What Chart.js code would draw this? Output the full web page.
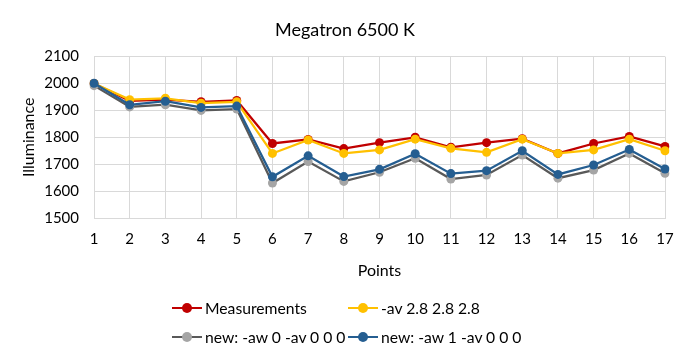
<!DOCTYPE html>
<html><head><meta charset="utf-8">
<script src="https://cdn.jsdelivr.net/npm/chart.js@4/dist/chart.umd.min.js"></script>
<style>
body{margin:0;background:#fff;}
#wrap{position:relative;width:690px;height:360px;}
#legend{position:absolute;left:0;top:0;width:690px;height:360px;pointer-events:none;font-family:Lato,"Open Sans",sans-serif;font-size:15.7px;color:#000;}
.li{position:absolute;display:flex;align-items:center;white-space:nowrap;height:20px;}
.mk{position:relative;width:30px;height:10px;margin-right:3px;}
.mk .ln{position:absolute;left:0;right:0;top:4px;height:2px;}
.mk .dt{position:absolute;left:10px;top:0;width:10px;height:10px;border-radius:50%;}
</style></head>
<body><div id="wrap"><canvas id="c" width="690" height="360"></canvas><div id="legend"></div></div>
<script>
const title = "Megatron 6500 K";
const categories = ["1","2","3","4","5","6","7","8","9","10","11","12","13","14","15","16","17"];
const seriesNames = ["Measurements", "-av 2.8 2.8 2.8", "new: -aw 0 -av 0 0 0", "new: -aw 1 -av 0 0 0"];
const measurements = [2000,1935,1940,1932,1937,1777,1792,1758,1780,1800,1763,1780,1795,1740,1777,1803,1766];
const av28 = [2000,1940,1945,1927,1932,1740,1790,1740,1753,1793,1759,1744,1793,1740,1753,1793,1750];
const aw0 = [1992,1913,1921,1900,1905,1630,1710,1636,1670,1722,1645,1660,1734,1648,1678,1740,1666];
const aw1 = [2001,1921,1934,1911,1916,1653,1731,1654,1681,1739,1665,1676,1750,1662,1697,1755,1682];
const yTicks = [1500,1600,1700,1800,1900,2000,2100];

const lineColors = ["#c00000","#ffc000","#595959","#255e91"];
const markColors = ["#c00000","#ffc000","#a5a5a5","#255e91"];
const FONT = 'Lato, "Open Sans", sans-serif';
const allData = [measurements, av28, aw0, aw1];

const datasets = allData.map((d,i)=>({
  label: seriesNames[i], data: d,
  borderColor: lineColors[i], backgroundColor: markColors[i],
  pointBackgroundColor: markColors[i], pointBorderColor: markColors[i],
  borderWidth: 2.25, pointRadius: 4.5, pointBorderWidth: 0, tension: 0,
  order: 4 - i
}));

new Chart(document.getElementById('c'), {
  type: 'line',
  data: { labels: categories, datasets },
  options: {
    responsive: false, animation: false,
    layout: { padding: { top: 0, right: 25, bottom: 80, left: 25 } },
    plugins: {
      legend: { display: false }, tooltip: { enabled: false },
      title: { display: true, text: title, color: '#000', font: { family: FONT, size: 18, weight: 'normal' }, padding: { top: 19, bottom: 16 } }
    },
    scales: {
      x: {
        offset: false,
        afterFit: ax => { ax.height = 62; },
        grid: { color: '#d9d9d9', lineWidth: 1, drawTicks: false },
        border: { color: '#d9d9d9' },
        ticks: { color: '#000', font: { family: FONT, size: 15 }, padding: 12, maxRotation: 0, autoSkip: false },
        title: { display: true, text: 'Points', color: '#000', font: { family: FONT, size: 16 }, padding: { top: 12, bottom: 0 } }
      },
      y: {
        min: 1500, max: 2100,
        afterBuildTicks: ax => { ax.ticks = yTicks.map(v => ({ value: v })); },
        afterFit: ax => { ax.width = 69; },
        grid: { color: '#d9d9d9', lineWidth: 1, drawTicks: false },
        border: { color: '#d9d9d9' },
        ticks: { color: '#000', font: { family: FONT, size: 15 }, padding: 15, callback: v => String(v) },
        title: { display: true, text: 'Illuminance', color: '#000', font: { family: FONT, size: 16 }, padding: { top: -6, bottom: 4 } }
      }
    }
  }
});

// HTML legend
const pos = [[172,308],[348,308],[172,337],[348,337]];
const lg = document.getElementById('legend');
seriesNames.forEach((n,i)=>{
  const el = document.createElement('div');
  el.className = 'li';
  el.style.left = pos[i][0] + 'px';
  el.style.top = (pos[i][1]-10) + 'px';
  el.innerHTML = '<div class="mk"><div class="ln" style="background:'+lineColors[i]+'"></div><div class="dt" style="background:'+markColors[i]+'"></div></div><span></span>';
  el.querySelector('span').textContent = n;
  lg.appendChild(el);
});
</script>
</body></html>
